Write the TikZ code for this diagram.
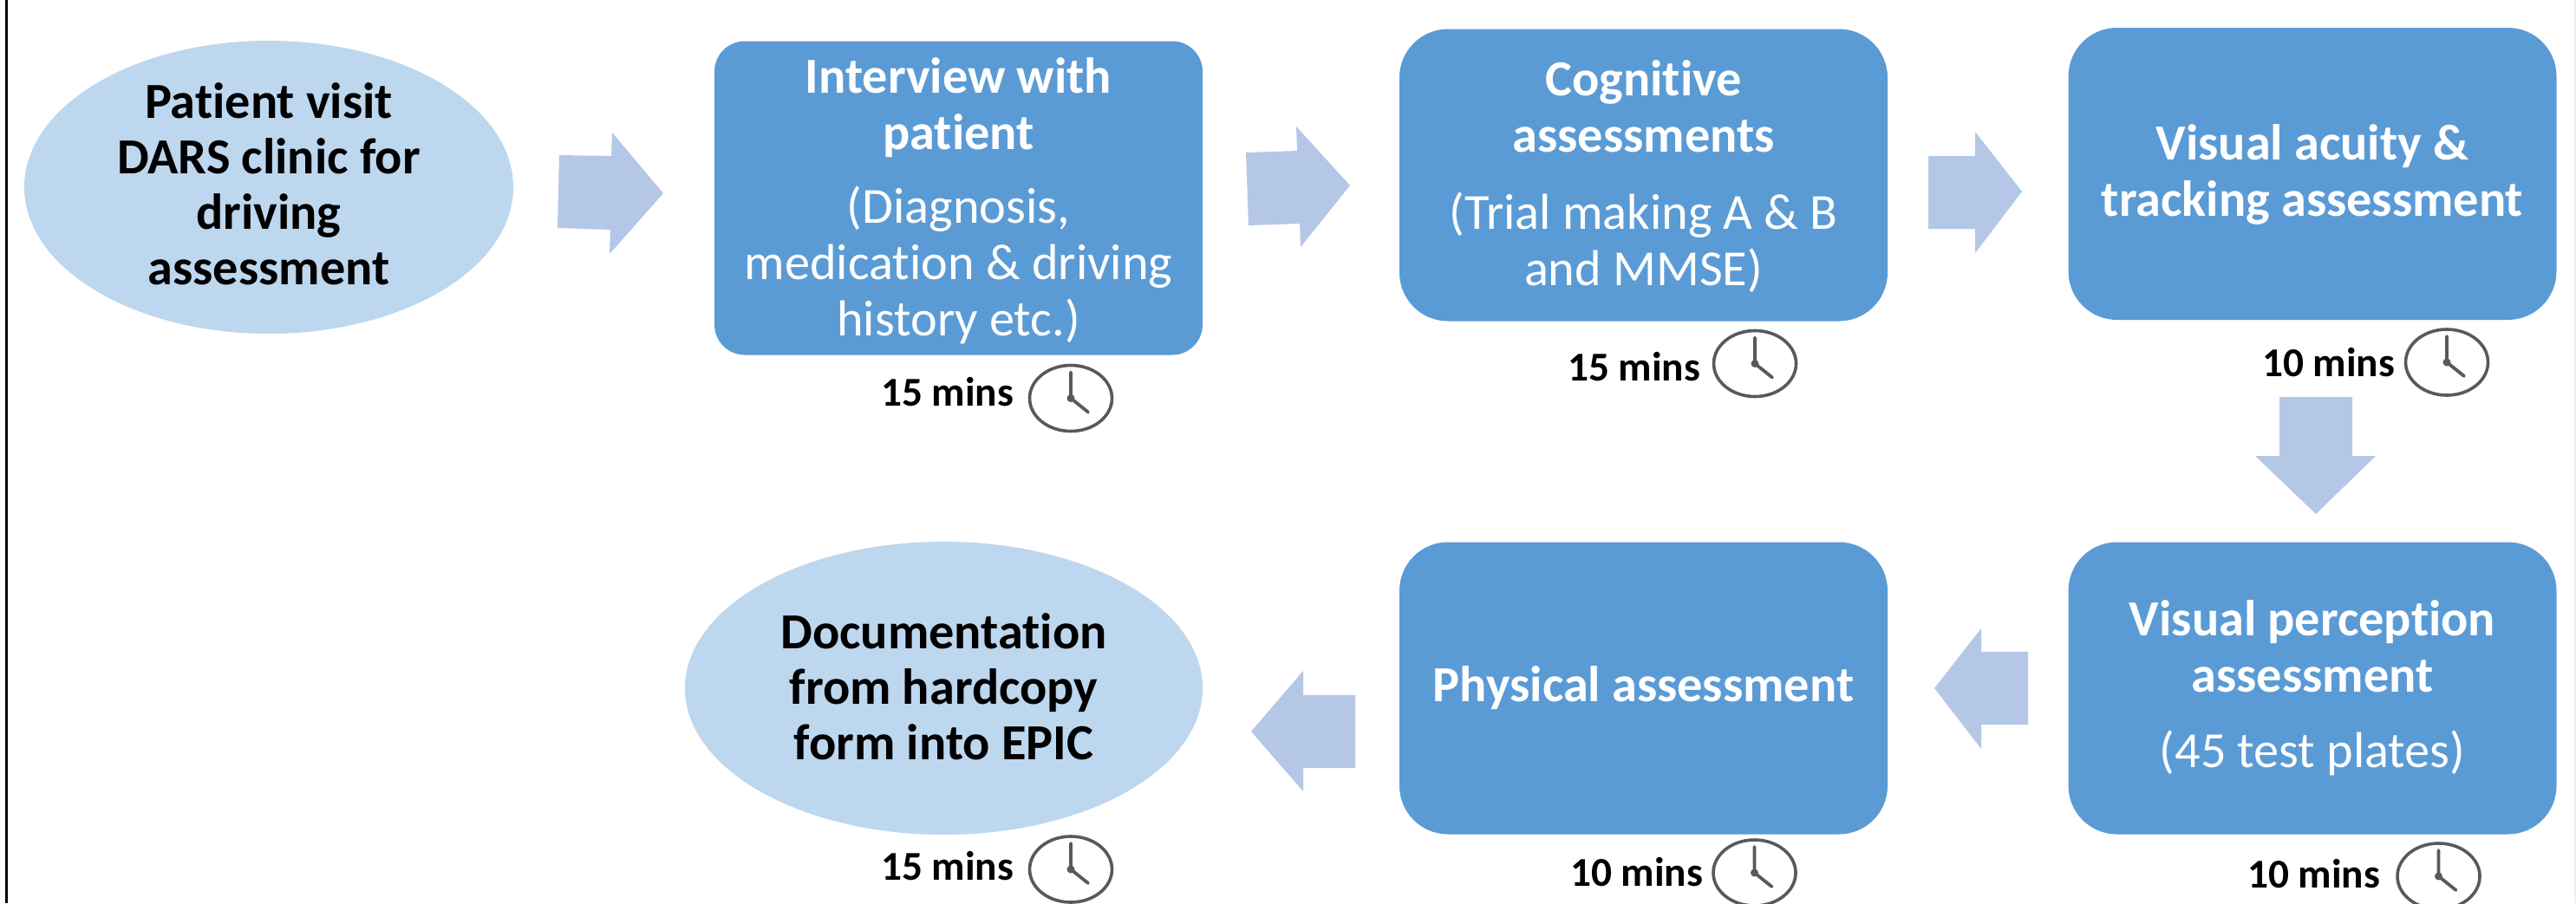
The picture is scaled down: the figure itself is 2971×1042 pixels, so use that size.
\documentclass[tikz,border=0pt]{standalone}
\usepackage{fontspec}
\setmainfont{Carlito}[Ligatures=NoCommon]
\usetikzlibrary{shapes.geometric}
\definecolor{boxblue}{HTML}{5B9BD5}
\definecolor{ovalblue}{HTML}{BDD7EE}
\definecolor{arrowblue}{HTML}{B4C7E7}
\definecolor{clockgray}{HTML}{595959}
\definecolor{edgegray}{HTML}{EFEFEF}
\tikzset{
  x=1pt,y=-1pt,
  stepbox/.style={fill=boxblue,text=white,rounded corners=56pt,inner sep=0pt,align=center,
     font=\fontsize{58.3}{65}\selectfont,minimum width=563pt,minimum height=337pt},
  oval/.style={ellipse,fill=ovalblue,inner sep=0pt},
  ovaltext/.style={align=center,inner sep=0pt,font=\fontsize{58.3}{64}\selectfont\bfseries,text=black},
  blockarrow/.style={fill=arrowblue,draw=none},
  timelabel/.style={anchor=base west,inner sep=0pt,font=\fontsize{47.3}{56}\selectfont\bfseries,text=black},
  clockicon/.pic={
    \draw[clockgray,line width=3.6pt] (0,0) ellipse [x radius=47.5,y radius=38];
    \draw[clockgray,line width=3.8pt,line cap=round] (0,-30) -- (0,0) -- (20,16);
    \fill[clockgray] (0,0) circle (4.5);
  }
}
\newcommand{\hd}[1]{{\bfseries #1}}
\begin{document}
\begin{tikzpicture}
\clip (0,0) rectangle (2971,1042);
\fill[white] (0,0) rectangle (2971,1042);
\draw[black,line width=3pt] (7,0) -- (7,1042);
\draw[edgegray,line width=2pt] (2970,0) -- (2970,1042);

\node[oval,minimum width=564pt,minimum height=338pt] (visit) at (310,216) {};
\node[ovaltext,yshift=3.5pt] (visitt) at (visit.center) {Patient visit\\DARS clinic for\\driving\\assessment};

\node[stepbox,minimum height=362pt,rounded corners=35pt,text depth=3pt] (interview) at (1105.5,228.5)
  {\hd{Interview with}\\\hd{patient}\\[20pt](Diagnosis,\\medication \& driving\\history etc.)};
\node[stepbox,text depth=4pt] (cog) at (1895.5,202)
  {\hd{Cognitive}\\\hd{assessments}\\[24pt](Trial making A \& B\\and MMSE)};
\node[stepbox,text depth=7pt] (acuity) at (2667,200.5)
  {\hd{Visual acuity \&}\\\hd{tracking assessment}};
\node[stepbox] (perception) at (2667,794)
  {\hd{Visual perception}\\\hd{assessment}\\[22pt](45 test plates)};
\node[stepbox] (physical) at (1895.5,794) {\hd{Physical assessment}};

\node[oval,minimum width=597pt,minimum height=338pt] (doc) at (1088.5,794) {};
\node[ovaltext,yshift=2pt] (doct) at (doc.center) {Documentation\\from hardcopy\\form into EPIC};

\path[blockarrow] (645,179) -- (705,180) -- (706,153) -- (765,223) -- (703,293) -- (704,265) -- (643,263) -- cycle;
\path[blockarrow] (1437,176) -- (1496,174) -- (1495,146) -- (1557,214) -- (1500,285) -- (1499,258) -- (1440,260) -- cycle;
\path[blockarrow] (2224,180) -- (2278,180) -- (2278,152) -- (2332,221) -- (2278,292) -- (2278,264) -- (2224,264) -- cycle;
\path[blockarrow] (2629,458) -- (2713,458) -- (2713,526) -- (2740,526) -- (2671,593) -- (2601,526) -- (2629,526) -- cycle;
\path[blockarrow] (2231,794) -- (2285,725) -- (2285,752) -- (2339,752) -- (2339,836) -- (2285,836) -- (2285,864) -- cycle;
\path[blockarrow] (1443,844) -- (1503,774) -- (1503,802) -- (1563,802) -- (1563,886) -- (1503,886) -- (1503,913) -- cycle;

\node[timelabel] (t1) at (1016,468) {15 mins};
\pic at (1235,459.5) {clockicon};
\node[timelabel] (t2) at (1808,439) {15 mins};
\pic at (2024,419.5) {clockicon};
\node[timelabel] (t3) at (2609,434) {10 mins};
\pic at (2822,418) {clockicon};
\node[timelabel] (t4) at (2592,1024) {10 mins};
\pic at (2812.5,1011) {clockicon};
\node[timelabel] (t5) at (1811,1022) {10 mins};
\pic at (2023.5,1007) {clockicon};
\node[timelabel] (t6) at (1016,1015) {15 mins};
\pic at (1235,1003) {clockicon};
\end{tikzpicture}
\end{document}
